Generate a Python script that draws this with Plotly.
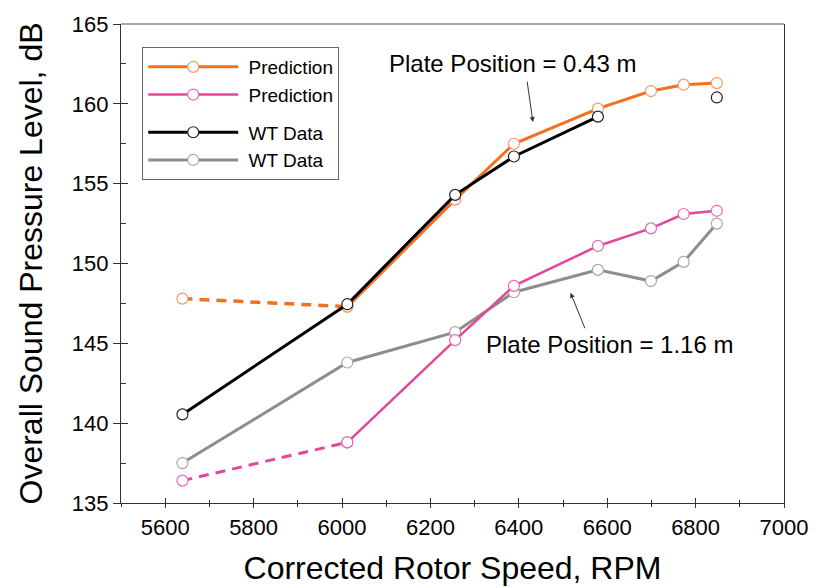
import plotly.graph_objects as go

# ---- data ----
rpm = [5639, 6012, 6256, 6389, 6579, 6699, 6773, 6848]
pred_043 = [147.8, 147.3, 154.0, 157.5, 159.7, 160.8, 161.2, 161.3]
pred_116 = [136.4, 138.8, 145.2, 148.6, 151.1, 152.2, 153.1, 153.3]
wt_116 = [137.5, 143.8, 145.7, 148.2, 149.6, 148.9, 150.1, 152.5]
wt_043_rpm = [5639, 6012, 6256, 6389, 6579]
wt_043 = [140.55, 147.45, 154.3, 156.7, 159.2]
wt_043_extra_rpm = [6848]
wt_043_extra = [160.4]

ORANGE = "#F37021"
PINK = "#E2479B"
GRAY = "#8E8E8E"
BLACK = "#000000"
FONT = "Liberation Sans, Arial, sans-serif"

fig = go.Figure()

def mk(color, lw=1.2):
    return dict(symbol="circle", size=11, color="white", line=dict(color=color, width=lw))

# Gray WT data (1.16 m)
fig.add_trace(go.Scatter(x=rpm, y=wt_116, mode="lines+markers", name="\u00a0WT Data",
                         line=dict(color=GRAY, width=3), marker=mk("#A8A8A8"),
                         legendgroup="wt", legendrank=4))
# Pink prediction (1.16 m): dashed first segment, solid rest
fig.add_trace(go.Scatter(x=rpm[:2], y=pred_116[:2], mode="lines+markers", showlegend=False,
                         line=dict(color=PINK, width=3, dash="10px,7px"), marker=mk("#E86BB0")))
fig.add_trace(go.Scatter(x=rpm[1:], y=pred_116[1:], mode="lines+markers", name="\u00a0Prediction",
                         line=dict(color=PINK, width=2.5), marker=mk("#E86BB0"),
                         legendgroup="pred", legendrank=2))
# Orange prediction (0.43 m)
fig.add_trace(go.Scatter(x=rpm[:2], y=pred_043[:2], mode="lines+markers", showlegend=False,
                         line=dict(color=ORANGE, width=3.5, dash="10px,7px"), marker=mk("#F89A64")))
fig.add_trace(go.Scatter(x=rpm[1:], y=pred_043[1:], mode="lines+markers", name="\u00a0Prediction",
                         line=dict(color=ORANGE, width=3), marker=mk("#F89A64"),
                         legendgroup="pred", legendrank=1))
# Black WT data (0.43 m)
fig.add_trace(go.Scatter(x=wt_043_rpm, y=wt_043, mode="lines+markers", name="\u00a0WT Data",
                         line=dict(color=BLACK, width=3), marker=mk("#222222"),
                         legendgroup="wt", legendrank=3))
fig.add_trace(go.Scatter(x=wt_043_extra_rpm, y=wt_043_extra, mode="markers", showlegend=False,
                         marker=mk("#222222")))

# invisible trace to hold overlay axes
fig.add_trace(go.Scatter(x=[5500], y=[135], xaxis="x2", yaxis="y2", mode="markers",
                         marker=dict(opacity=0), showlegend=False, hoverinfo="skip"))

axis_font = dict(family=FONT, size=22, color="black")
fig.update_layout(
    width=811, height=580,
    margin=dict(l=113, r=35, t=16, b=85),
    paper_bgcolor="white", plot_bgcolor="white",
    font=dict(family=FONT, color="black"),
    xaxis=dict(range=[5500, 7000], dtick=200, tick0=5600, ticks="outside", ticklen=4,
               tickcolor="#333", tickwidth=1, showline=True, linecolor="#333", linewidth=1.2,
               showgrid=False, zeroline=False, tickfont=axis_font, automargin=False,
               minor=dict(dtick=100, ticks="outside", ticklen=3, tickcolor="#333"),
               title=dict(text="Corrected Rotor Speed, RPM", font=dict(family=FONT, size=32),
                          standoff=18)),
    yaxis=dict(range=[135, 165], dtick=5, ticks="outside", ticklen=7, tickcolor="#333",
               showline=True, linecolor="#333", linewidth=1.2, mirror=True,
               showgrid=False, zeroline=False, tickfont=axis_font, automargin=False,
               title=dict(text="Overall Sound Pressure Level, dB", font=dict(family=FONT, size=32),
                          standoff=19)),
    xaxis2=dict(overlaying="x", matches="x", side="bottom", anchor="y2", ticks="inside", ticklen=5,
                tickcolor="#333", dtick=200, tick0=5600, showticklabels=False, showline=False,
                showgrid=False, zeroline=False, automargin=False,
                minor=dict(dtick=100, ticks="inside", ticklen=3, tickcolor="#333")),
    yaxis2=dict(overlaying="y", matches="y", side="left", anchor="x2", ticks="inside", ticklen=7,
                tickcolor="#333", dtick=5, showticklabels=False, showline=False,
                showgrid=False, zeroline=False, automargin=False,
                minor=dict(dtick=2.5, ticks="inside", ticklen=5, tickcolor="#333")),
    legend=dict(x=0.032, y=0.952, xanchor="left", yanchor="top", bgcolor="white",
                bordercolor="#666", borderwidth=1, font=dict(family=FONT, size=19),
                tracegroupgap=10, traceorder="grouped", itemwidth=90),
    showlegend=True,
)

# top border (gray frame line)
fig.add_shape(type="line", xref="paper", yref="paper", x0=0, x1=1, y0=1, y1=1,
              line=dict(color="#8A8A8A", width=1.5))

# annotations
fig.add_annotation(x=6385, y=162.55, text="Plate Position = 0.43 m", showarrow=False,
                   font=dict(family=FONT, size=24, color="black"))
fig.add_annotation(x=6432, y=158.86, ax=-6, ay=-42, text="", showarrow=True,
                   arrowhead=2, arrowsize=1, arrowwidth=1, arrowcolor="#333")
fig.add_annotation(x=6606, y=144.9, text="Plate Position = 1.16 m", showarrow=False,
                   font=dict(family=FONT, size=24, color="black"))
fig.add_annotation(x=6517, y=148.17, ax=15, ay=37, text="", showarrow=True,
                   arrowhead=2, arrowsize=1, arrowwidth=1, arrowcolor="#333")

fig.write_html("out.html")
